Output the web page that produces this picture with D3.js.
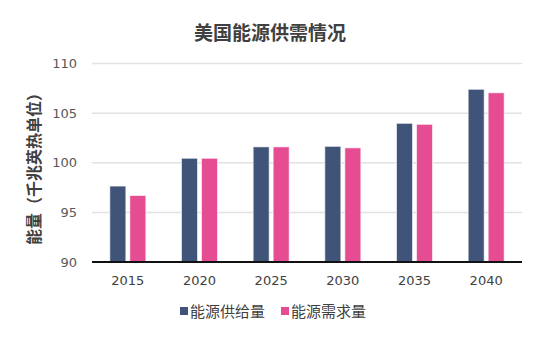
<!DOCTYPE html>
<html><head><meta charset="utf-8">
<script src="https://cdn.jsdelivr.net/npm/d3@7"></script>
<style>body{margin:0;background:#fff}svg{display:block}</style>
</head><body>
<svg id="c" width="540" height="338"></svg>
<script>
const years = ["2015","2020","2025","2030","2035","2040"];
const supply = [97.65, 100.45, 101.6, 101.65, 103.97, 107.4];
const demand = [96.7, 100.45, 101.6, 101.5, 103.87, 107.05];
const seriesNames = ["能源供给量","能源需求量"];
const yTicks = [90, 95, 100, 105, 110];
const colors = ["#3f5478", "#e64c92"];
const titleText = "美国能源供需情况";
const yTitle = "能量（千兆英热单位）";

const svg = d3.select("#c");
const font = "'Noto Sans CJK SC', 'Noto Sans', sans-serif";
const numFont = "'DejaVu Sans', sans-serif";
const m = {left: 92, right: 522, top: 63.5, bottom: 262};

const x = d3.scaleBand().domain(years).range([m.left, m.right]);
const y = d3.scaleLinear().domain([90, 110]).range([m.bottom, m.top]);

// gridlines
svg.append("g").selectAll("line").data(yTicks.filter(t => t > 90)).join("line")
  .attr("x1", m.left).attr("x2", m.right)
  .attr("y1", d => y(d)).attr("y2", d => y(d))
  .attr("stroke", "#e2e2e2").attr("stroke-width", 1.5);

// bars
const barW = 16, gap = 4;
const data = years.map((yr, i) => ({yr, vals: [supply[i], demand[i]]}));
const g = svg.append("g");
data.forEach(d => {
  const cx = x(d.yr) + x.bandwidth() / 2;
  d.vals.forEach((v, k) => {
    const x0 = k === 0 ? cx - gap/2 - barW : cx + gap/2;
    g.append("rect")
      .attr("x", x0).attr("width", barW)
      .attr("y", y(v)).attr("height", y(90) - y(v))
      .attr("fill", colors[k])
      .attr("stroke", "#ffffff").attr("stroke-opacity", 0.6).attr("stroke-width", 1);
  });
});

// x axis line
svg.append("line").attr("x1", m.left).attr("x2", m.right)
  .attr("y1", y(90)).attr("y2", y(90)).attr("stroke", "#111").attr("stroke-width", 2);

// y tick labels
const yAxis = d3.axisLeft(y).tickValues(yTicks).tickSize(0).tickPadding(0);
const ya = svg.append("g").attr("transform", `translate(${m.left - 15},0)`).call(yAxis);
ya.select(".domain").remove();
ya.selectAll("text").attr("font-family", numFont).attr("font-size", 13).attr("fill", "#595959");

// x tick labels
const xAxis = d3.axisBottom(x).tickSize(0).tickPadding(0);
const xa = svg.append("g").attr("transform", `translate(0,${y(90) + 14})`).call(xAxis);
xa.select(".domain").remove();
xa.selectAll("text").attr("font-family", numFont).attr("font-size", 13).attr("fill", "#404040");

// title
svg.append("text").attr("x", 270).attr("y", 40).attr("text-anchor", "middle")
  .attr("font-family", font).attr("font-size", 19).attr("font-weight", "bold")
  .attr("fill", "#404040").text(titleText);

// y title
svg.append("text").attr("transform", "translate(40,165) rotate(-90)")
  .attr("text-anchor", "middle").attr("font-family", font).attr("font-size", 16)
  .attr("font-weight", "bold").attr("fill", "#404040").text(yTitle);

// legend
const legX = [180, 281];
seriesNames.forEach((n, k) => {
  svg.append("rect").attr("x", legX[k]).attr("y", 307).attr("width", 8).attr("height", 8)
    .attr("fill", colors[k]);
  svg.append("text").attr("x", legX[k] + 10).attr("y", 316.5)
    .attr("font-family", font).attr("font-size", 15).attr("fill", "#404040").text(n);
});
</script>
</body></html>
